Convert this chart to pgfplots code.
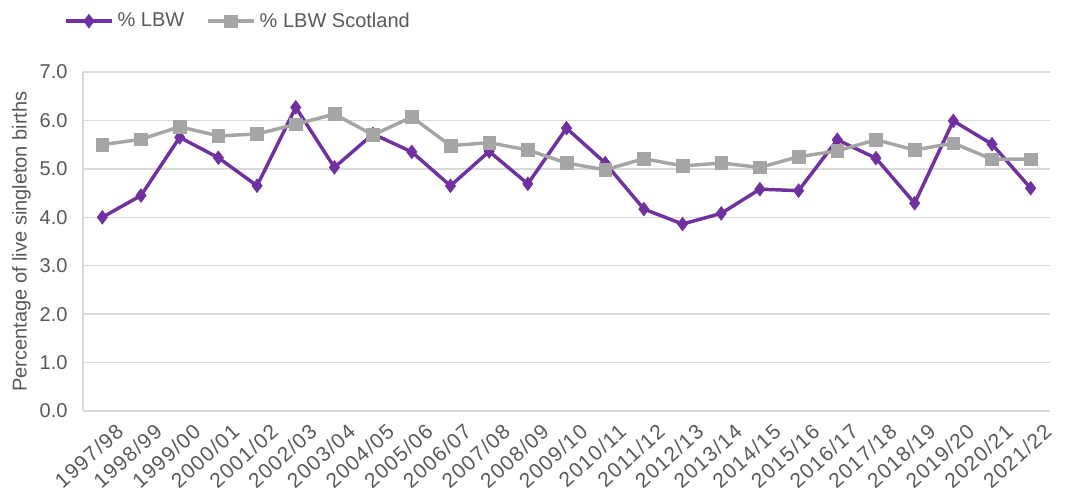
\documentclass[border=0pt]{standalone}
\usepackage{pgfplots}
\pgfplotsset{compat=1.18}
\usepackage{fontspec}
\setmainfont{Liberation Sans}
\definecolor{lbw}{HTML}{7030A0}
\definecolor{scot}{HTML}{A5A5A5}
\definecolor{txt}{HTML}{595959}
\definecolor{grd}{HTML}{D9D9D9}
\begin{document}
\begin{tikzpicture}
\begin{axis}[
  scale only axis, width=531.85pt, height=186.45pt,
  xmin=-0.5, xmax=24.5, ymin=0, ymax=7,
  ytick={0,1,...,7},
  xtick={0,1,...,24},
  xticklabels={1997/98,1998/99,1999/00,2000/01,2001/02,2002/03,2003/04,2004/05,2005/06,2006/07,2007/08,2008/09,2009/10,2010/11,2011/12,2012/13,2013/14,2014/15,2015/16,2016/17,2017/18,2018/19,2019/20,2020/21,2021/22},
  /pgf/number format/assume math mode=true,
  yticklabel={\pgfmathprintnumber[fixed,fixed zerofill,precision=1]{\tick}},
  tick label style={font=\fontsize{11}{13}\selectfont, text=txt},
  y tick label style={xshift=-5pt},
  x tick label style={rotate=42, anchor=north east, inner sep=1pt, yshift=-8pt, xshift=2pt, font=\fontsize{11.5}{13}\selectfont\addfontfeature{LetterSpace=6}},
  major tick length=0pt,
  axis x line*=bottom, axis y line*=left,
  axis line style={draw=grd, line width=0.8pt, -},
  ymajorgrids, grid style={draw=grd, line width=0.8pt},
  ylabel={Percentage of live singleton births},
  ylabel style={font=\fontsize{11}{13}\selectfont, text=txt, yshift=-2pt},
  legend style={at={(rel axis cs:0.161,1.15)}, anchor=center, draw=none, fill=none,
    legend columns=2, font=\fontsize{11}{13}\selectfont, text=txt,
    /tikz/every even column/.append style={column sep=10pt}},
  legend image code/.code={\draw[mark repeat=2,mark phase=2] plot coordinates {(0cm,0cm)(0.45cm,0cm)(0.9cm,0cm)};},
]
\addplot[lbw, line width=1.9pt, mark=diamond*, mark size=3.8pt, mark options={solid, fill=lbw, draw=lbw, line width=0.3pt}]
coordinates {(0,4.00)(1,4.45)(2,5.65)(3,5.23)(4,4.65)(5,6.27)(6,5.03)(7,5.72)(8,5.35)(9,4.65)(10,5.36)(11,4.69)(12,5.84)(13,5.12)(14,4.17)(15,3.86)(16,4.08)(17,4.58)(18,4.55)(19,5.60)(20,5.22)(21,4.29)(22,5.99)(23,5.51)(24,4.60)};
\addlegendentry{\% LBW}
\addplot[scot, line width=1.9pt, mark=square*, mark size=3.5pt, mark options={solid, fill=scot, draw=scot, line width=0.3pt}]
coordinates {(0,5.50)(1,5.61)(2,5.87)(3,5.68)(4,5.72)(5,5.92)(6,6.13)(7,5.70)(8,6.07)(9,5.48)(10,5.54)(11,5.39)(12,5.12)(13,4.98)(14,5.21)(15,5.06)(16,5.12)(17,5.03)(18,5.25)(19,5.37)(20,5.60)(21,5.39)(22,5.53)(23,5.20)(24,5.20)};
\addlegendentry{\% LBW Scotland}
\node[anchor=west, font=\bfseries\fontsize{12}{14}\selectfont, text=txt, xshift=8pt] at (axis cs:24,5.2) {5.2};
\node[anchor=west, font=\bfseries\fontsize{12}{14}\selectfont, text=lbw, xshift=8pt] at (axis cs:24,4.6) {4.6};
\end{axis}
\pgfresetboundingbox
\path[use as bounding box] ([shift={(-45.65pt,-46.2pt)}]current axis.south west) rectangle ([shift={(15.95pt,39.6pt)}]current axis.north east);
\end{tikzpicture}
\end{document}
